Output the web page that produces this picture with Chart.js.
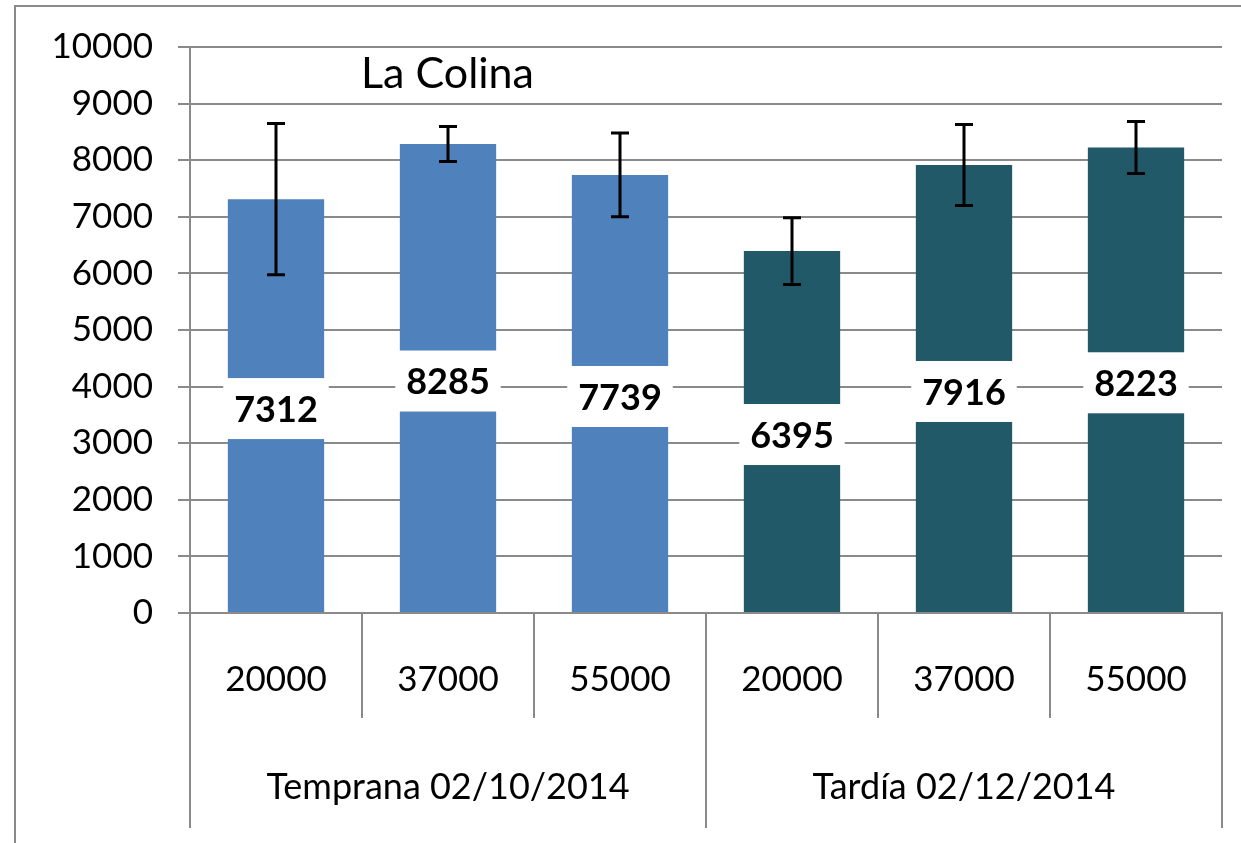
<!DOCTYPE html>
<html>
<head>
<meta charset="utf-8">
<script src="https://cdn.jsdelivr.net/npm/chart.js@4.4.1/dist/chart.umd.min.js"></script>
<style>
  html, body { margin: 0; padding: 0; background: #fff; overflow: hidden; }
  #frame { position: absolute; left: 14px; top: 5px; width: 1300px; height: 900px;
           border-left: 2px solid #8a8a8a; border-top: 2px solid #8a8a8a; }
  #wrap { position: absolute; left: 0; top: 0; width: 1241px; height: 843px; }
</style>
</head>
<body>
<div id="frame"></div>
<div id="wrap"><canvas id="chart" width="1241" height="843"></canvas></div>
<script>
const categories = ["20000", "37000", "55000", "20000", "37000", "55000"];
const groups = ["Temprana 02/10/2014", "Tardía 02/12/2014"];
const yields = [7312, 8285, 7739, 6395, 7916, 8223];
const errors = [1335, 310, 740, 590, 715, 460];
const barColors = ["#4F81BD", "#4F81BD", "#4F81BD", "#215968", "#215968", "#215968"];
const chartTitle = "La Colina";

const gridGray = "#8a8a8a";
const fontFamily = "Lato, 'Open Sans', sans-serif";

// labels in white boxes, error bars and the inner title
const extras = {
  id: "extras",
  afterDatasetsDraw(chart) {
    const ctx = chart.ctx;
    const y = chart.scales.y;
    const meta = chart.getDatasetMeta(0);
    ctx.save();

    ctx.font = "bold 36px " + fontFamily;
    ctx.textAlign = "center";
    ctx.textBaseline = "middle";
    meta.data.forEach((bar, i) => {
      const txt = String(yields[i]);
      const mid = y.getPixelForValue(yields[i] / 2) + 2;
      const w = ctx.measureText(txt).width;
      ctx.fillStyle = "#fff";
      ctx.fillRect(bar.x - w / 2 - 11, mid - 30, w + 22, 61);
      ctx.fillStyle = "#000";
      ctx.fillText(txt, bar.x, mid + 2);
    });

    ctx.strokeStyle = "#000";
    ctx.lineWidth = 3;
    meta.data.forEach((bar, i) => {
      const top = y.getPixelForValue(yields[i] + errors[i]);
      const bot = y.getPixelForValue(yields[i] - errors[i]);
      ctx.beginPath();
      ctx.moveTo(bar.x, top); ctx.lineTo(bar.x, bot);
      ctx.moveTo(bar.x - 9, top); ctx.lineTo(bar.x + 9, top);
      ctx.moveTo(bar.x - 9, bot); ctx.lineTo(bar.x + 9, bot);
      ctx.stroke();
    });

    ctx.font = "43px " + fontFamily;
    ctx.textAlign = "left";
    ctx.fillStyle = "#000";
    ctx.fillText(chartTitle, chart.chartArea.left + 171, 74);
    ctx.restore();
  }
};

new Chart(document.getElementById("chart"), {
  type: "bar",
  data: {
    labels: categories,
    datasets: [{
      data: yields,
      backgroundColor: barColors,
      categoryPercentage: 1,
      barPercentage: 0.56
    }]
  },
  options: {
    responsive: false,
    animation: false,
    layout: { padding: { top: 47, right: 19, bottom: 15, left: 0 } },
    plugins: {
      legend: { display: false },
      tooltip: { enabled: false }
    },
    scales: {
      x: {
        position: "bottom",
        grid: { offset: true, drawOnChartArea: false, tickLength: 105, color: gridGray, lineWidth: 2 },
        border: { color: gridGray, width: 2 },
        ticks: { font: { family: fontFamily, size: 35 }, color: "#000", padding: -59, maxRotation: 0, autoSkip: false },
        afterFit: s => { s.height = 105; }
      },
      x2: {
        type: "category",
        labels: groups,
        position: "bottom",
        offset: true,
        grid: { offset: true, drawOnChartArea: false, tickLength: 110, color: gridGray, lineWidth: 2 },
        border: { display: false },
        ticks: { font: { family: fontFamily, size: 36 }, color: "#000", padding: -62, maxRotation: 0 },
        afterFit: s => { s.height = 110; }
      },
      y: {
        min: 0,
        max: 10000,
        ticks: {
          stepSize: 1000,
          font: { family: fontFamily, size: 35 },
          color: "#000",
          padding: 25,
          callback: v => String(v)
        },
        grid: { color: gridGray, lineWidth: 2, tickLength: 12 },
        border: { color: gridGray, width: 2 },
        afterFit: s => { s.width = 190; }
      }
    }
  },
  plugins: [extras]
});
</script>
</body>
</html>
